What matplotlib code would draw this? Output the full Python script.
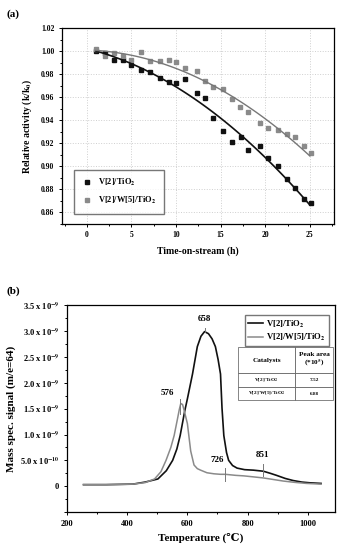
import numpy as np
import matplotlib
matplotlib.use("Agg")
import matplotlib.pyplot as plt
from matplotlib.ticker import MultipleLocator, FuncFormatter

# =============================
# DATA (a) - relative activity
# =============================
t_v = [1, 2, 3, 4, 5, 6.05, 7.05, 8.2, 9.2, 10, 11.05, 12.4, 13.3, 14.2, 15.3,
       16.3, 17.3, 18.1, 19.4, 20.3, 21.4, 22.4, 23.3, 24.3, 25.1]
act_v = [1.000, 0.9985, 0.992, 0.992, 0.9876, 0.9832, 0.9817, 0.9768, 0.973, 0.972,
         0.9756, 0.9638, 0.9597, 0.9417, 0.9304, 0.9209, 0.9255, 0.9145, 0.9174,
         0.907, 0.9003, 0.8887, 0.8811, 0.8719, 0.8678]

t_vw = [1.08, 2, 3, 4, 5, 6.05, 7.05, 8.25, 9.2, 10, 11.05, 12.4, 13.3, 14.2, 15.3,
        16.3, 17.2, 18.1, 19.4, 20.3, 21.4, 22.4, 23.3, 24.3, 25.1]
act_vw = [1.0017, 0.9957, 0.998, 0.9959, 0.992, 0.9989, 0.9916, 0.9913, 0.992, 0.9904,
          0.985, 0.9823, 0.9742, 0.9684, 0.967, 0.958, 0.9516, 0.9467, 0.9377,
          0.9336, 0.9313, 0.9276, 0.9255, 0.9174, 0.9113]

# =============================
# DATA (b) - SO2 TPD (x 1e-9)
# =============================
temp_v = [255, 330, 419, 460, 502, 530, 551, 565, 576, 591, 600, 617, 633, 645,
          657, 670, 682, 693, 702, 710, 715, 721, 730, 737, 750, 765, 790, 820,
          852, 875, 896, 925, 951, 980, 1006, 1044]
sig_v = [0.03, 0.03, 0.04, 0.08, 0.14, 0.30, 0.50, 0.72, 0.98, 1.45, 1.69, 2.17,
         2.70, 2.90, 2.99, 2.95, 2.85, 2.70, 2.45, 2.17, 1.51, 0.98, 0.65, 0.50,
         0.40, 0.35, 0.32, 0.31, 0.29, 0.25, 0.21, 0.15, 0.11, 0.08, 0.066, 0.054]

temp_vw = [255, 330, 419, 460, 491, 512, 529, 545, 556, 567, 573, 578, 584, 590,
           600, 611, 622, 633, 644, 665, 688, 710, 726, 760, 787, 820, 852, 885,
           918, 955, 995, 1044]
sig_vw = [0.03, 0.03, 0.04, 0.07, 0.14, 0.28, 0.50, 0.75, 0.98, 1.30, 1.48, 1.60,
          1.58, 1.45, 1.21, 0.68, 0.41, 0.34, 0.31, 0.26, 0.24, 0.23, 0.23, 0.21,
          0.20, 0.18, 0.16, 0.13, 0.10, 0.075, 0.054, 0.04]

peak_labels = ["658", "576", "726", "851"]
peak_text_xy = [(658, 3.15), (533, 1.72), (700, 0.43), (848, 0.53)]
peak_tick = [(658, 2.99, 3.06), (576, 1.39, 1.68), (726, 0.11, 0.35), (851, 0.19, 0.42)]

table_cols = ["Catalysts", "Peak area\n(*10$^{5}$)"]
table_cat = ["V[2]/TiO$_{2}$", "V[2]/W[5]/TiO$_{2}$"]
table_area = ["7.52", "6.88"]

# =============================
# STYLE
# =============================
plt.rcParams["font.family"] = ["Liberation Serif", "DejaVu Serif"]
plt.rcParams["font.weight"] = "bold"
plt.rcParams["mathtext.fontset"] = "stix"
plt.rcParams["mathtext.default"] = "bf"
plt.rcParams["axes.linewidth"] = 0.9

BLACK = "#111111"
GRAY = "#8a8a8a"

fig = plt.figure(figsize=(3.4, 5.5), dpi=100)

# =============================
# PANEL (a)
# =============================
ax1 = fig.add_axes([0.182, 0.593, 0.800, 0.356])
ax1.plot(t_v, act_v, "s", color=BLACK, ms=2.6, label="V[2]/TiO$_{2}$")
ax1.plot(t_vw, act_vw, "s", color=GRAY, ms=2.6, label="V[2]/W[5]/TiO$_{2}$")

xs = np.linspace(1, 25, 100)
fit_v = np.polyfit(t_v, act_v, 2)
fit_vw = np.polyfit(t_vw, act_vw, 2)
ax1.plot(xs, np.polyval(fit_v, xs), color=BLACK, lw=1.2)
ax1.plot(xs, np.polyval(fit_vw, xs), color="#777777", lw=1.0)

ax1.set_xlim(-2.8, 27.7)
ax1.set_ylim(0.85, 1.02)
ax1.xaxis.set_major_locator(MultipleLocator(5))
ax1.xaxis.set_minor_locator(MultipleLocator(2.5))
ax1.yaxis.set_major_locator(MultipleLocator(0.02))
ax1.yaxis.set_minor_locator(MultipleLocator(0.01))
ax1.yaxis.set_major_formatter(FuncFormatter(lambda v, p: f"{v:.2f}"))
ax1.grid(True, which="major", color="#cfcfcf", ls=":", lw=0.7)
ax1.tick_params(which="both", labelsize=5.5, length=2, width=0.7, direction="out")
ax1.tick_params(which="minor", length=1.3)
ax1.set_xlabel("Time-on-stream (h)", fontsize=7, fontweight="bold", labelpad=5)
ax1.set_ylabel("Relative activity (k/k$_{0}$)", fontsize=7, fontweight="bold", labelpad=5)
ax1.legend(loc="lower left", bbox_to_anchor=(0.03, 0.03), fontsize=6, frameon=True,
           fancybox=False, edgecolor="#555555", handlelength=1.2, borderpad=0.9,
           labelspacing=0.8, prop={"weight": "bold", "size": 6})
fig.text(0.018, 0.975, "(a)", fontsize=8, fontweight="bold", va="center")

# =============================
# PANEL (b)
# =============================
ax2 = fig.add_axes([0.197, 0.069, 0.788, 0.376])
l1, = ax2.plot(temp_v, sig_v, color=BLACK, lw=1.2)
l2, = ax2.plot(temp_vw, sig_vw, color=GRAY, lw=1.1)

for lab, (tx, ty), (px, y0, y1) in zip(peak_labels, peak_text_xy, peak_tick):
    ax2.text(tx, ty, lab, fontsize=6.5, fontweight="bold", ha="center", va="bottom")
    ax2.plot([px, px], [y0, y1], color="#777777", lw=0.7)

ax2.set_xlim(200, 1090)
ax2.set_ylim(-0.5, 3.5)
ax2.xaxis.set_major_locator(MultipleLocator(200))
ax2.xaxis.set_minor_locator(MultipleLocator(100))
ax2.yaxis.set_major_locator(MultipleLocator(0.5))
ax2.yaxis.set_minor_locator(MultipleLocator(0.25))


def sig_fmt(v, p):
    if abs(v) < 1e-6:
        return "0"
    if v < 0:
        return ""
    if abs(v - 0.5) < 1e-6:
        return "5.0 x 10$^{-10}$"
    return f"{v:.1f} x 10$^{{-9}}$"


ax2.yaxis.set_major_formatter(FuncFormatter(sig_fmt))
ax2.tick_params(which="both", labelsize=6, length=2, width=0.7, direction="out")
ax2.tick_params(which="minor", length=1.3)
ax2.set_xlabel("Temperature (\u2103)", fontsize=8, fontweight="bold", labelpad=4)
ax2.set_ylabel("Mass spec. signal (m/e=64)", fontsize=8, fontweight="bold", labelpad=3)

leg = ax2.legend([l1, l2], ["V[2]/TiO$_{2}$", "V[2]/W[5]/TiO$_{2}$"],
                 loc="upper right", bbox_to_anchor=(0.993, 0.972), fancybox=False,
                 edgecolor="#555555", handlelength=1.8, borderpad=0.35,
                 labelspacing=0.3, handletextpad=0.3,
                 prop={"weight": "bold", "size": 6.2})

cells = [[c, a] for c, a in zip(table_cat, table_area)]
tab = ax2.table(cellText=cells, colLabels=table_cols, cellLoc="center",
                bbox=[0.638, 0.541, 0.355, 0.258], colWidths=[0.6, 0.4])
tab.auto_set_font_size(False)
for (r, c), cell in tab.get_celld().items():
    cell.set_linewidth(0.5)
    cell.set_edgecolor("#555555")
    cell.get_text().set_fontweight("bold")
    cell.get_text().set_fontsize(5.2 if r == 0 else 3.8)
    if r == 0:
        cell.set_height(0.5)
    else:
        cell.set_height(0.25)

fig.text(0.018, 0.47, "(b)", fontsize=8, fontweight="bold", va="center")

fig.savefig("out.png", dpi=100)
